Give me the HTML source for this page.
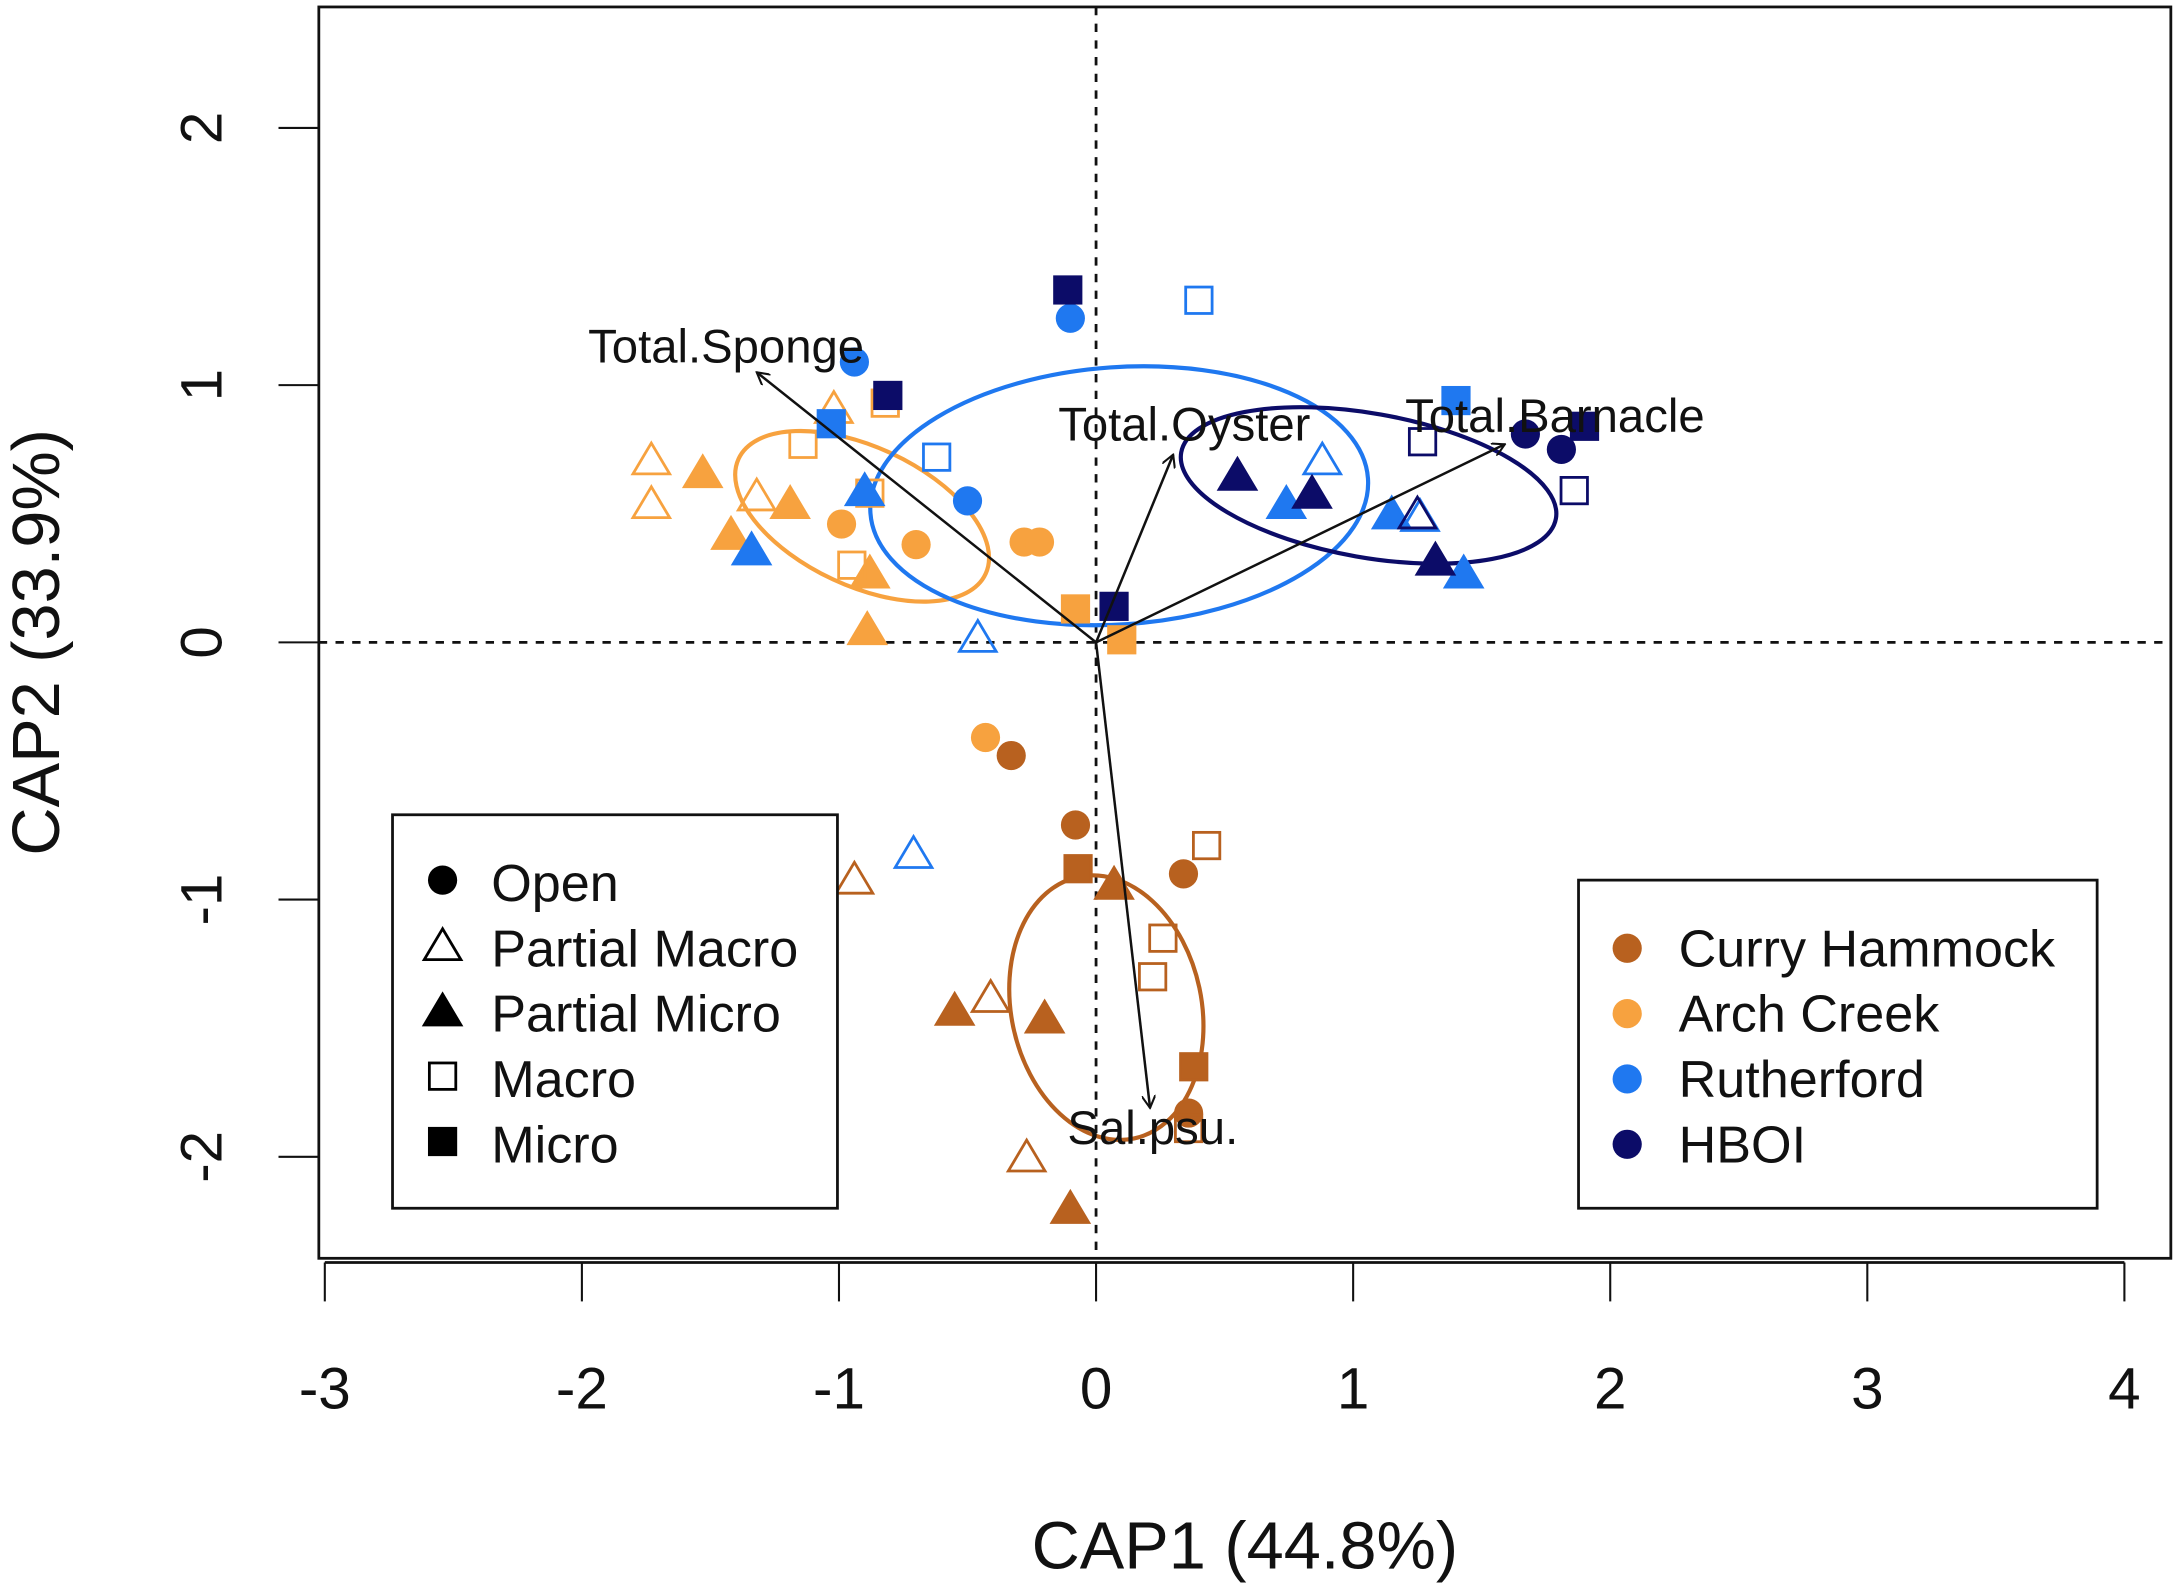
<!DOCTYPE html>
<html><head><meta charset="utf-8"><style>
html,body{margin:0;padding:0;background:#fff}
svg{display:block}
text{font-family:"Liberation Sans",sans-serif;fill:#111}
</style></head><body>
<svg id="chart" width="2181" height="1592" viewBox="0 0 1568 1145" xmlns="http://www.w3.org/2000/svg"></svg>
<script>
// ---- data ----
const xTicks = [-3,-2,-1,0,1,2,3,4];
const yTicks = [-2,-1,0,1,2];
const siteNames = ["Curry Hammock","Arch Creek","Rutherford","HBOI"];
const siteColors = ["#b8611f","#f7a23f","#1f78f0","#0c0c68"];
const treatNames = ["Open","Partial Macro","Partial Micro","Macro","Micro"];
// points: x, y, site index, treatment index
const ptX = [-1.73,-1.73,-1.32,-1.02, -1.53,-1.42,-1.19,-0.88,-0.89, -1.14,-0.82,-0.95,-0.88, -0.08,0.10, -0.99,-0.70,-0.28,-0.22,-0.43,
  -0.33,-0.08,0.34,0.36, -0.94,-0.41,-0.27, -0.55,-0.20,0.07,-0.10, 0.43,0.26,0.22,0.36, -0.07,0.38,
  -0.94,-0.10,-0.50, -0.71,-0.46,0.88,1.26, -1.34,-0.90,0.74,1.15,1.43, 0.40,-0.62, -1.03,1.40,
  1.67,1.81, 0.55,0.84,1.32, 1.25, -0.11,-0.81,0.07,1.90, 1.27,1.86];
const ptY = [0.71,0.54,0.57,0.91, 0.66,0.42,0.54,0.27,0.05, 0.77,0.93,0.30,0.58, 0.13,0.01, 0.46,0.38,0.39,0.39,-0.37,
  -0.44,-0.71,-0.90,-1.83, -0.92,-1.38,-2.00, -1.43,-1.46,-0.94,-2.20, -0.79,-1.15,-1.30,-1.89, -0.88,-1.65,
  1.09,1.26,0.55, -0.82,0.02,0.71,0.49, 0.36,0.59,0.54,0.50,0.27, 1.33,0.72, 0.85,0.94,
  0.81,0.75, 0.65,0.58,0.32, 0.50, 1.37,0.96,0.14,0.84, 0.78,0.59];
const ptSite = [1,1,1,1, 1,1,1,1,1, 1,1,1,1, 1,1, 1,1,1,1,1,
  0,0,0,0, 0,0,0, 0,0,0,0, 0,0,0,0, 0,0,
  2,2,2, 2,2,2,2, 2,2,2,2,2, 2,2, 2,2,
  3,3, 3,3,3, 3, 3,3,3,3, 3,3];
const ptTreat = [1,1,1,1, 2,2,2,2,2, 3,3,3,3, 4,4, 0,0,0,0,0,
  0,0,0,0, 1,1,1, 2,2,2,2, 3,3,3,3, 4,4,
  0,0,0, 1,1,1,1, 2,2,2,2,2, 3,3, 4,4,
  0,0, 2,2,2, 1, 4,4,4,4, 3,3];
// ellipses per site: centre, semi-axes (data units), rotation (deg, screen)
const ellCX = [0.04,-0.91,0.09,1.06];
const ellCY = [-1.42,0.49,0.57,0.61];
const ellRX = [0.37,0.53,0.97,0.74];
const ellRY = [0.52,0.27,0.50,0.28];
const ellRot = [-12,25,-4,10];
// biplot arrows
const arrNames = ["Total.Sponge","Total.Oyster","Total.Barnacle","Sal.psu."];
const arrX = [-1.32,0.30,1.59,0.21];
const arrY = [1.05,0.73,0.77,-1.81];

// ---- scales ----
const X0=788, XU=184.9, Y0=462, YU=185;
const sx = v => X0 + v*XU;
const sy = v => Y0 - v*YU;
const NS="http://www.w3.org/2000/svg";
const svg=document.getElementById('chart');
function mk(tag, attrs, parent){const e=document.createElementNS(NS,tag);for(const k in attrs)e.setAttribute(k,attrs[k]);(parent||svg).appendChild(e);return e;}

// box
let e=mk('rect',{x:229,y:5,width:1332,height:900,fill:'none',stroke:'#111','stroke-width':2});


// dashed zero lines
e=mk('line',{x1:sx(0),y1:5,x2:sx(0),y2:905,stroke:'#111','stroke-width':2,'stroke-dasharray':'6,6'});


e=mk('line',{x1:229,y1:sy(0),x2:1561,y2:sy(0),stroke:'#111','stroke-width':2,'stroke-dasharray':'6,6'});


// x axis
e=mk('line',{x1:sx(-3),y1:908,x2:sx(4),y2:908,stroke:'#111','stroke-width':2});


xTicks.forEach(t=>{
  const l=mk('line',{x1:sx(t),y1:908,x2:sx(t),y2:936,stroke:'#111','stroke-width':1.5});
  
  
  const tx=mk('text',{x:sx(t),y:1013,'text-anchor':'middle','font-size':42});
  tx.textContent=String(t);
  
  
});
// y axis
yTicks.forEach(t=>{
  const l=mk('line',{x1:200,y1:sy(t),x2:229,y2:sy(t),stroke:'#111','stroke-width':1.5});
  
  
  const tx=mk('text',{x:0,y:0,'text-anchor':'middle','font-size':42,transform:`translate(159,${sy(t)}) rotate(-90)`});
  tx.textContent=String(t);
  
  
});
e=mk('text',{x:895,y:1128,'text-anchor':'middle','font-size':48});
e.textContent='CAP1 (44.8%)';


e=mk('text',{x:0,y:0,'text-anchor':'middle','font-size':48,transform:'translate(42,462) rotate(-90)'});
e.textContent='CAP2 (33.9%)';



// ellipses
siteNames.forEach((s,i)=>{
  const el=mk('ellipse',{cx:sx(ellCX[i]),cy:sy(ellCY[i]),rx:ellRX[i]*XU,ry:ellRY[i]*YU,fill:'none',stroke:siteColors[i],'stroke-width':3,
    transform:`rotate(${ellRot[i]} ${sx(ellCX[i])} ${sy(ellCY[i])})`});
  
  
});

// markers
function marker(t,cx,cy,col,parent){
  let m;
  if(t===0) m=mk('circle',{cx,cy,r:10.5,fill:col},parent);
  else if(t===1||t===2){const h=12;m=mk('polygon',{points:`${cx},${cy-h} ${cx-h*1.1},${cy+h*0.85} ${cx+h*1.1},${cy+h*0.85}`,fill:t===2?col:'#fff','fill-opacity':t===2?1:0,stroke:col,'stroke-width':2},parent);}
  else {const h=9.5;m=mk('rect',{x:cx-h,y:cy-h,width:2*h,height:2*h,fill:t===4?col:'#fff','fill-opacity':t===4?1:0,stroke:col,'stroke-width':2},parent);}
  return m;
}
ptX.forEach((v,i)=>{
  const m=marker(ptTreat[i],sx(v),sy(ptY[i]),siteColors[ptSite[i]]);
  
  
});

// arrows
const defs=mk('defs',{});
const mkr=mk('marker',{id:'ah',markerWidth:10,markerHeight:10,refX:9,refY:5,orient:'auto',markerUnits:'userSpaceOnUse'},defs);
mk('path',{d:'M0,0 L9,5 L0,10',fill:'none',stroke:'#111','stroke-width':1.5},mkr);
const labOff=[[-22,-7],[8,-10],[36,-9],[2,26]];
arrNames.forEach((n,i)=>{
  const a=mk('line',{x1:sx(0),y1:sy(0),x2:sx(arrX[i]),y2:sy(arrY[i]),stroke:'#111','stroke-width':1.8,'marker-end':'url(#ah)'});
  
  
  const t=mk('text',{x:sx(arrX[i])+labOff[i][0],y:sy(arrY[i])+labOff[i][1],'text-anchor':'middle','font-size':34});
  t.textContent=n;
  
  
});

// legends
const lg1=mk('g',{});


mk('rect',{x:282,y:586,width:320,height:283,fill:'#fff',stroke:'#111','stroke-width':2},lg1);
treatNames.forEach((n,i)=>{
  const y=635+i*47;
  const m=marker(i,318,y-2,'#000',lg1);
  
  
  const t=mk('text',{x:353,y:y+13,'font-size':37.5},lg1);
  t.textContent=n;
  
  
});
const lg2=mk('g',{});


mk('rect',{x:1135,y:633,width:373,height:236,fill:'#fff',stroke:'#111','stroke-width':2},lg2);
siteNames.forEach((n,i)=>{
  const y=682+i*47;
  const c=mk('circle',{cx:1170,cy:y,r:10.5,fill:siteColors[i]},lg2);
  
  
  const t=mk('text',{x:1207,y:y+13,'font-size':37.5},lg2);
  t.textContent=n;
  
  
});
</script>
</body></html>
